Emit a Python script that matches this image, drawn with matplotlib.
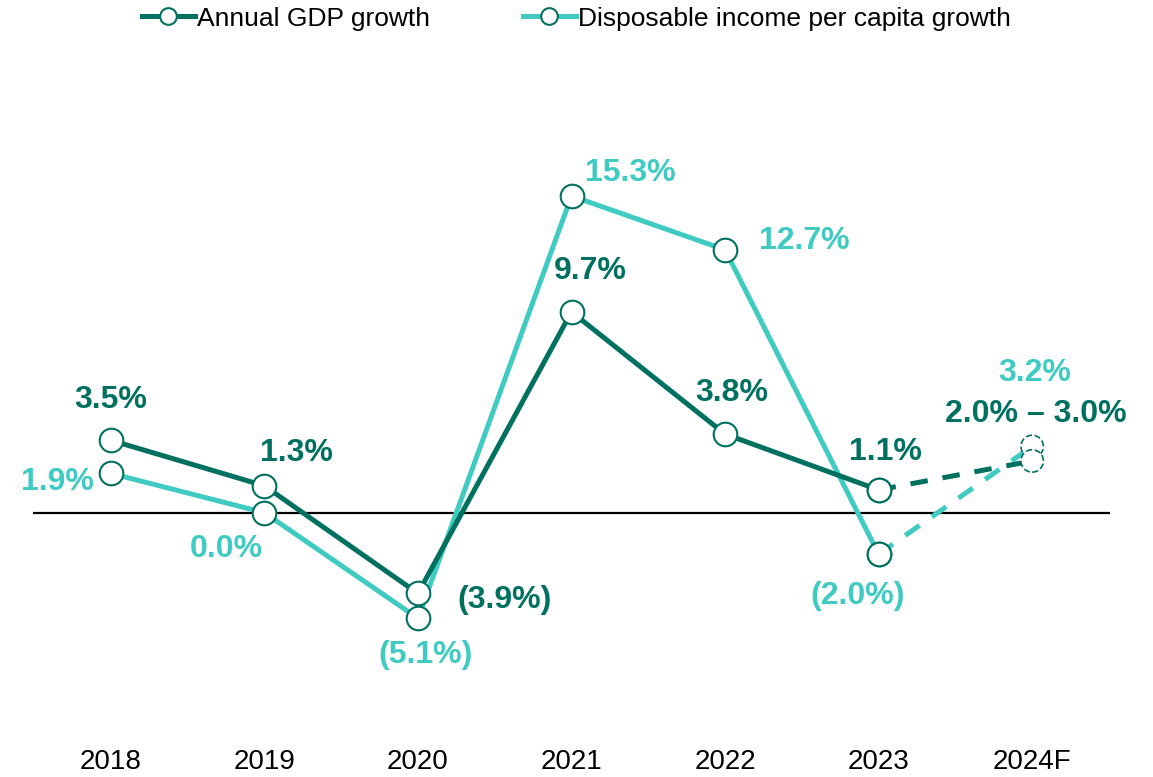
import matplotlib.pyplot as plt

plt.rcParams['font.family'] = ['Liberation Sans', 'DejaVu Sans']

years = ['2018', '2019', '2020', '2021', '2022', '2023', '2024F']
gdp = [3.5, 1.3, -3.9, 9.7, 3.8, 1.1, 2.5]
income = [1.9, 0.0, -5.1, 15.3, 12.7, -2.0, 3.2]
gdp_labels = ['3.5%', '1.3%', '(3.9%)', '9.7%', '3.8%', '1.1%', '2.0% \u2013 3.0%']
income_labels = ['1.9%', '0.0%', '(5.1%)', '15.3%', '12.7%', '(2.0%)', '3.2%']

# label offsets in pixels (dx, dy)
gdp_off = [(0, 40), (32, 33), (87, -7), (19, 41), (7, 41), (7, 38), (4, 47)]
inc_off = [(-53, -9), (-38, -36), (8, -37), (59, 23), (79, 9), (-21, -42), (3, 73)]

dark = '#007060'
light = '#40CBC2'

fig = plt.figure(figsize=(11.53, 7.77), dpi=100)
ax = fig.add_axes([33 / 1153, 1 - 699 / 777, (1110 - 33) / 1153, 621 / 777])

x = list(range(len(years)))
ax.axhline(0, color='black', lw=1.6, zorder=1)

mk = dict(marker='o', markersize=17, markerfacecolor='white', markeredgecolor=dark, markeredgewidth=1.5)

ax.plot(x[:6], income[:6], color=light, lw=3.6, zorder=2, **mk)
ax.plot(x[:6], gdp[:6], color=dark, lw=3.6, zorder=3, **mk)
ax.plot(x[5:], income[5:], color=light, lw=3.6, dashes=(3.5, 3), zorder=2)
ax.plot(x[5:], gdp[5:], color=dark, lw=3.6, dashes=(3.5, 3), zorder=3)
ax.scatter([x[6]], [income[6]], s=260, facecolors='white', edgecolors=dark, linewidths=1.2, linestyles='--', zorder=4)
ax.scatter([x[6]], [gdp[6]], s=260, facecolors='white', edgecolors=dark, linewidths=1.2, linestyles='--', zorder=4)

# re-draw 2023 markers on top of dashed segments
ax.plot([x[5]], [income[5]], linestyle='none', zorder=5, **mk)
ax.plot([x[5]], [gdp[5]], linestyle='none', zorder=5, **mk)

for i in x:
    ax.annotate(gdp_labels[i], (x[i], gdp[i]), xytext=gdp_off[i], textcoords='offset pixels',
                ha='center', va='center', fontsize=23, fontweight='bold', color=dark)
    ax.annotate(income_labels[i], (x[i], income[i]), xytext=inc_off[i], textcoords='offset pixels',
                ha='center', va='center', fontsize=23, fontweight='bold', color=light)

ax.set_xlim(-0.507, 6.507)
ax.set_ylim(-9, 21)
ax.set_xticks(x)
ax.set_xticklabels(years, fontsize=20)
ax.tick_params(axis='x', length=0, pad=36)
ax.set_yticks([])
for s in ax.spines.values():
    s.set_visible(False)

h1, = ax.plot([], [], color=dark, lw=3.6, **mk)
h2, = ax.plot([], [], color=light, lw=3.6, **mk)
for h in (h1, h2):
    h.set_markersize(12)
fig.legend([h1, h2], ['Annual GDP growth', 'Disposable income per capita growth'],
           loc='upper center', bbox_to_anchor=(0.5, 1.022), ncol=2, frameon=False,
           fontsize=19, handlelength=2.0, handletextpad=0.1, columnspacing=3.5)

fig.savefig('out.png', dpi=100)
